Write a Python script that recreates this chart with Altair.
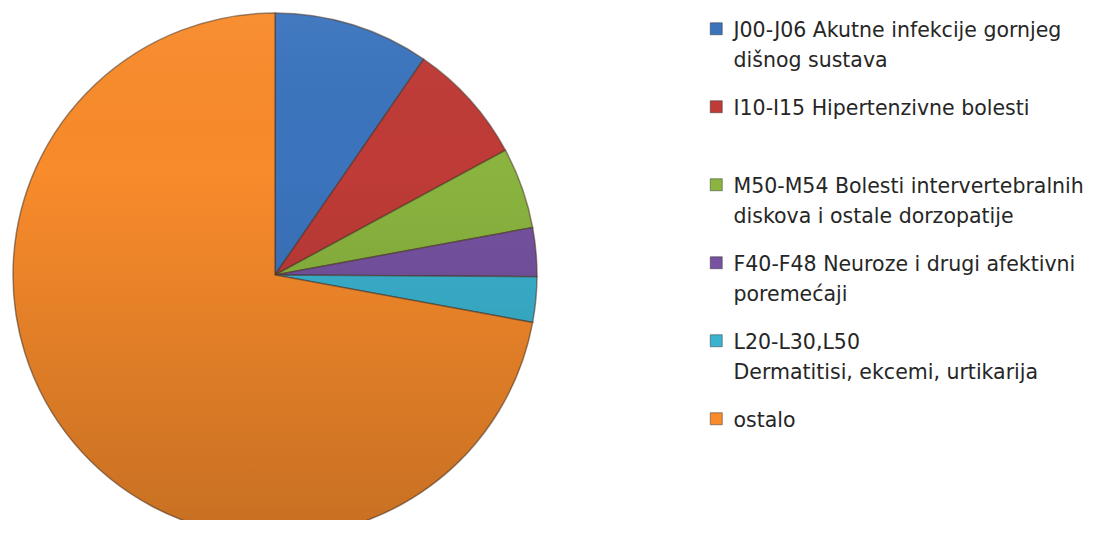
import altair as alt
import pandas as pd

categories = [
    "J00-J06 Akutne infekcije gornjeg\ndišnog sustava",
    "I10-I15 Hipertenzivne bolesti\n ",
    "M50-M54 Bolesti intervertebralnih\ndiskova i ostale dorzopatije",
    "F40-F48 Neuroze i drugi afektivni\nporemećaji",
    "L20-L30,L50\nDermatitisi, ekcemi, urtikarija",
    "ostalo",
]
values = [9.6, 7.5, 5.0, 3.0, 2.8, 72.1]
colors = ["#3b74bd", "#bf3b37", "#8ab43f", "#7652a0", "#3ab3d0", "#f88b2b"]

df = pd.DataFrame({"kategorija": categories, "vrijednost": values, "red": list(range(len(categories)))})

CX, CY, R = 267, 267, 262

pie = alt.Chart(df).mark_arc(
    radius=R, stroke="#4a3426", strokeOpacity=0.55, strokeWidth=1.5
).encode(
    theta=alt.Theta("vrijednost:Q", stack=True),
    order=alt.Order("red:Q"),
    color=alt.Color(
        "kategorija:N",
        scale=alt.Scale(domain=categories, range=colors),
        sort=None,
        legend=alt.Legend(
            title=None,
            orient="none",
            legendX=698,
            legendY=3,
            padding=0,
            symbolType="M-1,0.25L1,0.25L1,2.25L-1,2.25Z",
            symbolSize=144,
            symbolStrokeColor="#333333",
            symbolStrokeWidth=0.5,
            labelExpr="split(datum.label, '\\n')",
            labelFont="DejaVu Sans",
            labelFontSize=20.5,
            labelColor="#262626",
            labelBaseline="top",
            labelOffset=7,
            labelLimit=600,
            rowPadding=17,
        ),
    ),
    x=alt.value(CX),
    y=alt.value(CY),
)

shade = alt.Chart(pd.DataFrame({"k": [0]})).mark_arc(
    radius=R,
    theta=0,
    theta2=6.2832,
    fill=alt.LinearGradient(
        gradient="linear",
        stops=[
            alt.GradientStop(color="rgba(255,255,255,0.04)", offset=0),
            alt.GradientStop(color="rgba(0,0,0,0.0)", offset=0.3),
            alt.GradientStop(color="rgba(0,0,0,0.2)", offset=1),
        ],
        x1=0, x2=0, y1=0, y2=1,
    ),
).encode(x=alt.value(CX), y=alt.value(CY))

chart = alt.layer(pie, shade).properties(
    width=1099, height=512, autosize=alt.AutoSizeParams(type="none"), padding=0
).configure(
    style={"guide-label": {"lineHeight": 30}},
    view=alt.ViewConfig(strokeWidth=0, strokeOpacity=0),
)

chart.save("out.html", embed_options={"renderer": "svg", "actions": False})
